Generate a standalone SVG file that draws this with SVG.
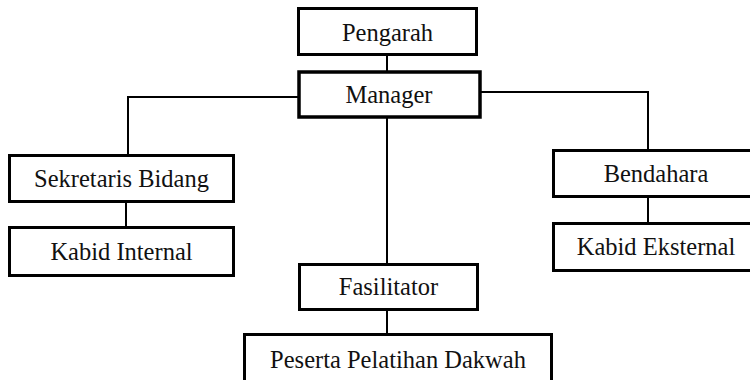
<svg xmlns="http://www.w3.org/2000/svg" width="750" height="380" viewBox="0 0 750 380">
<style>
.box{fill:#fff;stroke:#000;stroke-width:3}
.thick{stroke-width:3.5}
.lbl{font-family:"Liberation Serif","Times New Roman",serif;font-size:24.5px;fill:#111;text-anchor:middle}
.con{fill:none;stroke:#000;stroke-width:2}
</style>
<rect width="750" height="380" fill="#fff"/>
<g id="connectors">
<line class="con" x1="387" y1="55" x2="387" y2="74"/>
<polyline class="con" points="299,97 128,97 128,160"/>
<line class="con" x1="126" y1="197" x2="126" y2="229"/>
<polyline class="con" points="480,92 648,92 648,155"/>
<line class="con" x1="648" y1="192" x2="648" y2="225"/>
<line class="con" x1="387" y1="116" x2="387" y2="270"/>
<line class="con" x1="387" y1="304" x2="387" y2="337"/>
</g>
<g id="pengarah"><rect class="box" x="298.5" y="8.5" width="178" height="46"/><text class="lbl" x="387.5" y="41">Pengarah</text></g>
<g id="manager"><rect class="box thick" x="299" y="72" width="181" height="45"/><text class="lbl" x="389" y="103">Manager</text></g>
<g id="sekretaris"><rect class="box" x="9.5" y="155.5" width="224" height="46"/><text class="lbl" x="121.5" y="187">Sekretaris Bidang</text></g>
<g id="kabid-internal"><rect class="box" x="9.5" y="227.5" width="224" height="48"/><text class="lbl" x="121.5" y="260">Kabid Internal</text></g>
<g id="bendahara"><rect class="box" x="553.5" y="150.5" width="210" height="46"/><text class="lbl" x="656" y="182">Bendahara</text></g>
<g id="kabid-eksternal"><rect class="box" x="553.5" y="223.5" width="210" height="47"/><text class="lbl" x="656" y="255">Kabid Eksternal</text></g>
<g id="fasilitator"><rect class="box" x="299.5" y="264.5" width="178" height="45"/><text class="lbl" x="388.5" y="295">Fasilitator</text></g>
<g id="peserta"><rect class="box" x="244.5" y="334.5" width="307" height="60"/><text class="lbl" x="398" y="368">Peserta Pelatihan Dakwah</text></g>
</svg>
